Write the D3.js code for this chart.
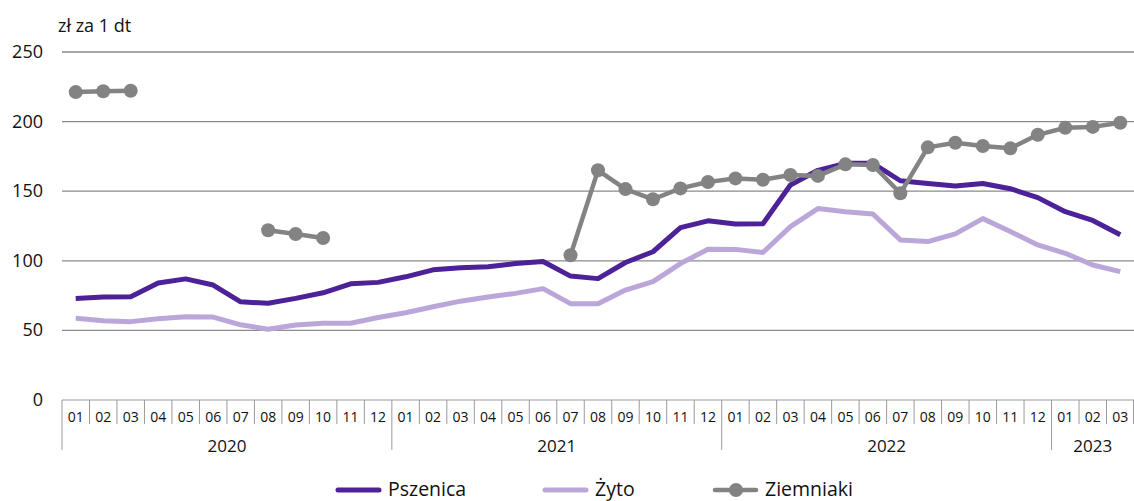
<!DOCTYPE html>
<html><head><meta charset="utf-8">
<script src="https://cdn.jsdelivr.net/npm/d3@7"></script>
<style>body{margin:0;background:#fff}svg{display:block}text{font-family:"Open Sans",sans-serif;fill:#111}</style>
</head><body><svg id="c" width="1134" height="501"></svg>
<script>
const years = ["2020","2021","2022","2023"];
const monthsPerYear = [12,12,12,3];
const monthLabels = ["01","02","03","04","05","06","07","08","09","10","11","12"];
const yTicks = [0,50,100,150,200,250];
const seriesNames = ["Pszenica","Żyto","Ziemniaki"];
const pszenica = [73,74,74.2,84,87,82.6,70.5,69.5,73,77,83.5,84.5,
  88.5,93.5,95,95.8,98,99.5,89,87.2,98.8,106.5,123.8,128.7,
  126.4,126.6,154.5,165,170,170,157.5,155.5,153.7,155.5,151.8,145.4,
  135.3,129,118.7];
const zyto = [58.7,57,56.3,58.3,59.8,59.6,54,50.8,53.9,55.1,55.1,59.3,
  62.7,67,71,74,76.6,80,69.2,69.2,79,85,98,108.3,
  108.2,106,124.5,137.5,135.3,133.6,115,113.8,119.3,130.3,121,111.4,
  105.4,97,92.2];
const ziemniaki = [221.2,221.8,222.2,null,null,null,null,122,119.3,116.4,null,null,
  null,null,null,null,null,null,104,165,151.5,144.2,152,156.6,
  159.2,158.2,161.6,161,169.3,168.8,148.5,181.5,184.8,182.5,180.8,190.5,
  195.6,196.2,199.2];

const months = [];
years.forEach((y,i)=>{for(let m=0;m<monthsPerYear[i];m++) months.push(y+"-"+monthLabels[m]);});

const svg = d3.select("#c");
const L=62, R=1134, T=52, B=400;
const x = d3.scaleBand().domain(months).range([L,R]);
const y = d3.scaleLinear().domain([0,250]).range([B,T]);
const cx = d => x(d)+x.bandwidth()/2;

svg.append("g").selectAll("line").data(yTicks.filter(d=>d>0)).join("line")
  .attr("x1",L).attr("x2",R).attr("y1",d=>y(d)).attr("y2",d=>y(d))
  .attr("stroke","#8a8a8a").attr("stroke-width",1.3);
svg.append("g").selectAll("text").data(yTicks).join("text")
  .attr("x",43).attr("y",d=>y(d)+6).attr("text-anchor","end")
  .attr("font-size",18).text(d=>d);
svg.append("text").attr("x",58).attr("y",32).attr("font-size",18).text("zł za 1 dt");

svg.append("line").attr("x1",L).attr("x2",R).attr("y1",B).attr("y2",B)
  .attr("stroke","#bdbdbd").attr("stroke-width",1.5);
const gx = svg.append("g");
months.forEach((m,i)=>{
  const isYearStart = m.endsWith("-01");
  gx.append("line").attr("x1",x(m)).attr("x2",x(m)).attr("y1",B).attr("y2",isYearStart?450:424)
    .attr("stroke","#9a9a9a").attr("stroke-width",1);
  gx.append("text").attr("x",cx(m)).attr("y",422).attr("text-anchor","middle")
    .attr("font-size",14).text(m.slice(5));
});
gx.append("line").attr("x1",R-0.5).attr("x2",R-0.5).attr("y1",B).attr("y2",424).attr("stroke","#9a9a9a");
let idx=0;
years.forEach((yr,i)=>{
  const first = months[idx], last = months[idx+monthsPerYear[i]-1];
  const mid = (x(first)+x(last)+x.bandwidth())/2;
  gx.append("text").attr("x",mid).attr("y",452).attr("text-anchor","middle").attr("font-size",17).text(yr);
  idx+=monthsPerYear[i];
});

const line = d3.line().defined(d=>d.v!=null).x(d=>cx(d.m)).y(d=>y(d.v));
const mk = arr => arr.map((v,i)=>({m:months[i],v}));
svg.append("path").datum(mk(zyto)).attr("d",line).attr("fill","none")
  .attr("stroke","#bba6da").attr("stroke-width",5).attr("stroke-linejoin","round");
svg.append("path").datum(mk(pszenica)).attr("d",line).attr("fill","none")
  .attr("stroke","#4d2198").attr("stroke-width",5).attr("stroke-linejoin","round");
svg.append("path").datum(mk(ziemniaki)).attr("d",line).attr("fill","none")
  .attr("stroke","#838383").attr("stroke-width",4.5).attr("stroke-linejoin","round");
svg.append("g").selectAll("circle").data(mk(ziemniaki).filter(d=>d.v!=null)).join("circle")
  .attr("cx",d=>cx(d.m)).attr("cy",d=>y(d.v)).attr("r",7).attr("fill","#838383");

const leg = [{n:seriesNames[0],c:"#4d2198",x:338,w:5},{n:seriesNames[1],c:"#bba6da",x:545,w:5},{n:seriesNames[2],c:"#838383",x:715,w:4.5,dot:true}];
leg.forEach(l=>{
  svg.append("line").attr("x1",l.x).attr("x2",l.x+41).attr("y1",490).attr("y2",490)
    .attr("stroke",l.c).attr("stroke-width",l.w).attr("stroke-linecap","round");
  if(l.dot) svg.append("circle").attr("cx",l.x+21).attr("cy",490).attr("r",7).attr("fill",l.c);
  svg.append("text").attr("x",l.x+50).attr("y",496).attr("font-size",19.5).text(l.n);
});
</script></body></html>
